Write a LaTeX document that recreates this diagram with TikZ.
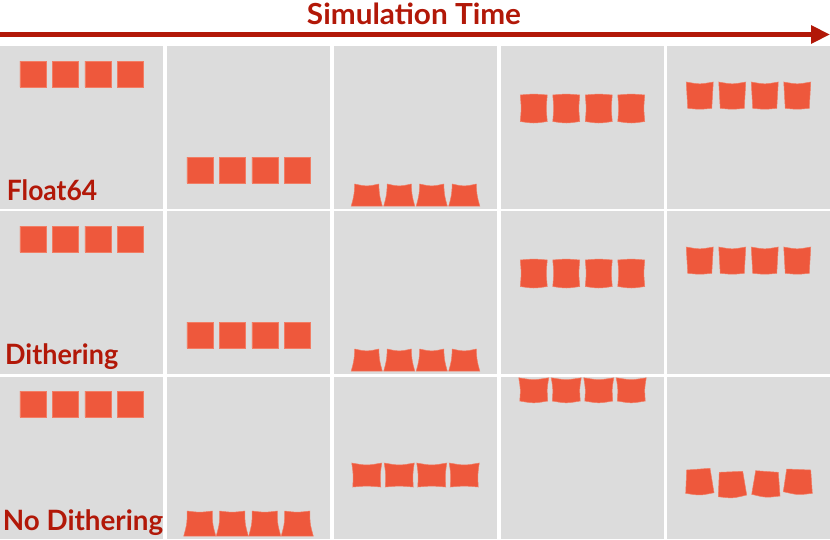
\documentclass[tikz,border=0pt]{standalone}
\usepackage{fontspec}
\setmainfont{Lato}
\usetikzlibrary{calc,arrows.meta}
\definecolor{panelgray}{RGB}{220,220,220}
\definecolor{sqfill}{RGB}{238,88,60}
\definecolor{sqedge}{RGB}{242,125,100}
\definecolor{darkred}{RGB}{178,24,8}
\tikzset{
  blobstyle/.style={fill=sqfill, draw=sqedge, line width=0.5pt},
  panel/.style={fill=panelgray},
  lab/.style={anchor=base west, inner sep=0pt, text=darkred, font=\fontsize{28}{28}\selectfont\bfseries},
}
% general quad blob: corners TL TR BR BL, top sag, bottom sag, side inset
\newcommand\qblob[7]{%
  \filldraw[blobstyle] #1 .. controls ($#1!0.5!#2+(0,{2*(#5)})$) .. #2
    .. controls ($#2!0.5!#3+({-2*(#7)},0)$) .. #3
    .. controls ($#3!0.5!#4+(0,{2*(#6)})$) .. #4
    .. controls ($#4!0.5!#1+({2*(#7)},0)$) .. cycle;}
% axis aligned blob: cx, top, bottom, top half width, bottom half width, top sag, bottom sag, side inset
\newcommand\sblob[8]{\qblob{({#1-#4},#2)}{({#1+#4},#2)}{({#1+#5},#3)}{({#1-#5},#3)}{#6}{#7}{#8}}
\newcommand\blobrow[8]{%
  \foreach \k in {0,1,2,3}{%
    \pgfmathsetmacro\bx{#1+(\k-1.5)*32.5}%
    \sblob{\bx}{#2}{#3}{#4}{#5}{#6}{#7}{#8}}}
\begin{document}
\begin{tikzpicture}[x=1pt,y=-1pt]
\fill[white] (0,0) rectangle (830,539);
\useasboundingbox (0,0) rectangle (830,539);
% panels
\foreach \px in {0,167,334,501,667}{
  \foreach \py in {46,211,376.5}{
    \fill[panel] (\px,\py) rectangle ++(163,162.5);
  }
}
% time arrow
\coordinate (tstart) at (0,34.5);
\coordinate (tend) at (830,34.5);
\draw[darkred, line width=4.5pt, -{Triangle[length=19pt,width=17.5pt]}] (tstart) -- (tend);
\node[anchor=base, inner sep=0pt, text=darkred] (title) at (414,24.3)
  {\resizebox{214pt}{\height}{\fontsize{29}{29}\selectfont\bfseries Simulation Time}};
% row 1 : Float64
\blobrow{81.5}{61}{87}{13}{13}{0}{0}{0}
\blobrow{248.5}{157}{183}{13}{13}{0}{0}{0}
\blobrow{415.5}{184}{206}{12}{15.5}{1.3}{0}{0.6}
\blobrow{582.5}{95}{121.5}{13.5}{13.5}{-0.6}{1.0}{0.6}
\blobrow{748.5}{82}{108.3}{13.5}{12}{1.2}{0.6}{0.4}
% row 2 : Dithering
\blobrow{81.5}{226}{252}{13}{13}{0}{0}{0}
\blobrow{248.5}{322}{348}{13}{13}{0}{0}{0}
\blobrow{415.5}{349}{371}{12}{15.5}{1.3}{0}{0.6}
\blobrow{582.5}{260}{286.5}{13.5}{13.5}{-0.6}{1.0}{0.6}
\blobrow{748.5}{247}{273.3}{13.5}{12}{1.2}{0.6}{0.4}
% row 3 : No Dithering
\blobrow{81.5}{391}{417}{13}{13}{0}{0}{0}
\blobrow{248.5}{511}{536}{12.5}{16}{0.8}{0}{0.8}
\blobrow{415.5}{463}{487}{15}{14}{1.3}{-0.6}{0.6}
\blobrow{582.5}{377.8}{401}{15}{14}{1.2}{1.2}{0.7}
\qblob{(686.7,470)}{(710,468.3)}{(714,492.7)}{(685.7,493.3)}{0.4}{1.3}{0.4}
\qblob{(719.3,472.3)}{(742.7,471.3)}{(746.7,495)}{(718.3,496.7)}{0.4}{1.3}{0.4}
\qblob{(755.7,470.7)}{(778.3,472.3)}{(780,496)}{(751.7,494.3)}{0.4}{1.3}{0.4}
\qblob{(786.7,469)}{(810.7,470)}{(812.3,493.3)}{(783.3,491.7)}{0.4}{1.3}{0.4}
% labels
\node[lab] (float) at (6.7,200) {\resizebox{90.3pt}{\height}{Float64}};
\node[lab] (dith) at (5,364) {\resizebox{113pt}{\height}{Dithering}};
\node[lab] (nodith) at (2.7,530) {\resizebox{160.3pt}{\height}{No Dithering}};
\end{tikzpicture}
\end{document}
